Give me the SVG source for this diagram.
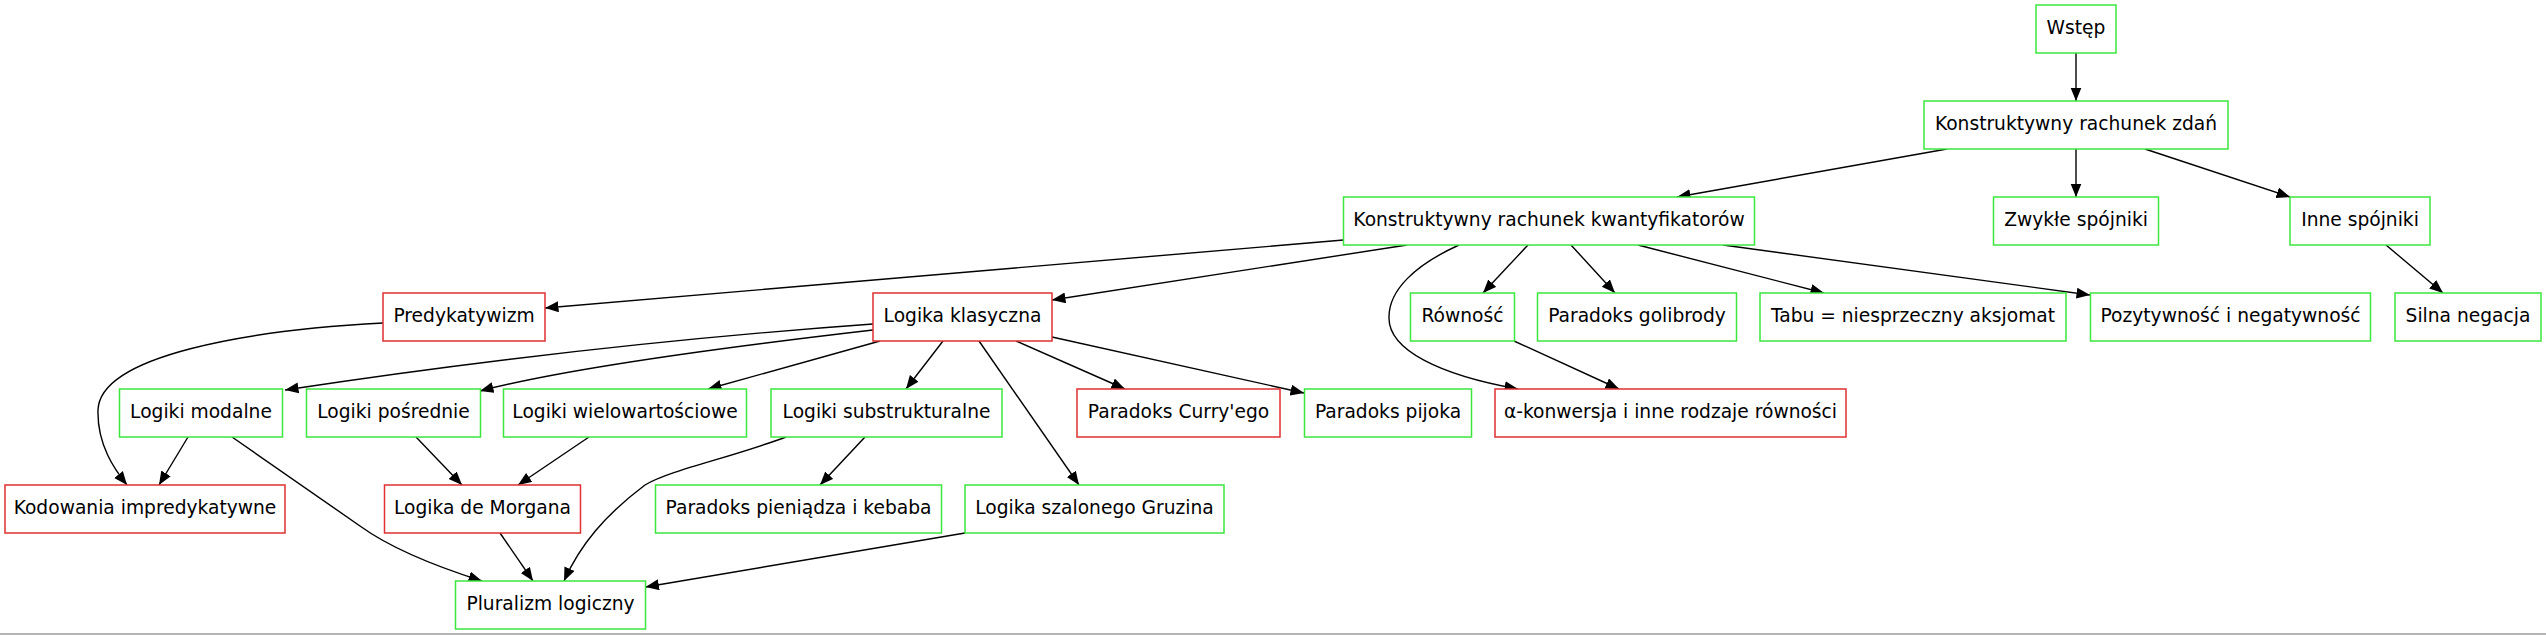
<svg xmlns="http://www.w3.org/2000/svg" width="2546" height="635" viewBox="0 0 2546 635">
<style>
  .n rect { fill: #ffffff; stroke-width: 1.5; }
  .g rect { stroke: #3ce63c; }
  .r rect { stroke: #e03030; }
  .n text { font-family: "DejaVu Sans", "Liberation Sans", sans-serif; font-size: 18.67px; text-anchor: middle; fill: #000000; }
  .e path { fill: none; stroke: #000000; stroke-width: 1.4; marker-end: url(#ah); }
</style>
<defs>
  <marker id="ah" markerWidth="16" markerHeight="12" refX="13.5" refY="5.5" orient="auto" markerUnits="userSpaceOnUse">
    <path d="M0,0 L13.5,5.5 L0,11 z" fill="#000000"/>
  </marker>
</defs>
<rect x="0" y="0" width="2546" height="635" fill="#ffffff"/>
<g id="connectors" class="e">
  <path d="M2076,53 L2076,101"/>
  <path d="M1947,149 L1677,197"/>
  <path d="M2076,149 L2076,197"/>
  <path d="M2145,149 L2290,197"/>
  <path d="M2386,245 L2443,293"/>
  <path d="M1343.5,240 L545,308"/>
  <path d="M1407,245 L1052,300"/>
  <path d="M1528,245 L1483,293"/>
  <path d="M1571,245 L1615,293"/>
  <path d="M1638,245 L1824,293"/>
  <path d="M1723,245 L2090,295"/>
  <path d="M1459,245 C1415,265 1389,290 1389,317 C1388,350 1440,375 1518,389"/>
  <path d="M1514,341 L1619,389"/>
  <path d="M383,323 C250,330 100,355 98,410 C97,445 115,470 127,485"/>
  <path d="M873,324 C650,340 450,365 285,390"/>
  <path d="M873,330 C700,350 560,370 480,391"/>
  <path d="M880,341 L708,389"/>
  <path d="M943,341 L906,389"/>
  <path d="M979,341 L1079,485"/>
  <path d="M1016,341 L1125,389"/>
  <path d="M1052,337 L1304,393"/>
  <path d="M188,437 L159,485"/>
  <path d="M232,437 L360,526 Q400,555 482,581"/>
  <path d="M416,437 L462,485"/>
  <path d="M589,437 L518,485"/>
  <path d="M865,437 L820,485"/>
  <path d="M786,437 C730,458 670,470 645,485 C605,515 580,545 564,581"/>
  <path d="M500,533 L533,581"/>
  <path d="M965,533 L645.5,587"/>
</g>
<g id="wstep" class="n g"><rect x="2036" y="5" width="80" height="48"/><text x="2076" y="34.3">Wstęp</text></g>
<g id="krz" class="n g"><rect x="1924" y="101" width="304" height="48"/><text x="2076" y="130.3">Konstruktywny rachunek zdań</text></g>
<g id="krk" class="n g"><rect x="1343.5" y="197" width="411" height="48"/><text x="1549" y="226.3">Konstruktywny rachunek kwantyfikatorów</text></g>
<g id="zwykle" class="n g"><rect x="1993.5" y="197" width="165" height="48"/><text x="2076" y="226.3">Zwykłe spójniki</text></g>
<g id="inne" class="n g"><rect x="2290" y="197" width="140" height="48"/><text x="2360" y="226.3">Inne spójniki</text></g>
<g id="predykatywizm" class="n r"><rect x="383" y="293" width="162" height="48"/><text x="464" y="322.3">Predykatywizm</text></g>
<g id="logika-klasyczna" class="n r"><rect x="873" y="293" width="179" height="48"/><text x="962.5" y="322.3">Logika klasyczna</text></g>
<g id="rownosc" class="n g"><rect x="1410.5" y="293" width="104" height="48"/><text x="1462.5" y="322.3">Równość</text></g>
<g id="golibroda" class="n g"><rect x="1537.5" y="293" width="199" height="48"/><text x="1637" y="322.3">Paradoks golibrody</text></g>
<g id="tabu" class="n g"><rect x="1760" y="293" width="306" height="48"/><text x="1913" y="322.3">Tabu = niesprzeczny aksjomat</text></g>
<g id="pozytywnosc" class="n g"><rect x="2090.5" y="293" width="280" height="48"/><text x="2230.5" y="322.3">Pozytywność i negatywność</text></g>
<g id="silna-negacja" class="n g"><rect x="2395" y="293" width="146" height="48"/><text x="2468" y="322.3">Silna negacja</text></g>
<g id="modalne" class="n g"><rect x="119.5" y="389" width="163" height="48"/><text x="201" y="418.3">Logiki modalne</text></g>
<g id="posrednie" class="n g"><rect x="306.5" y="389" width="174" height="48"/><text x="393.5" y="418.3">Logiki pośrednie</text></g>
<g id="wielowartosciowe" class="n g"><rect x="503.5" y="389" width="243" height="48"/><text x="625" y="418.3">Logiki wielowartościowe</text></g>
<g id="substrukturalne" class="n g"><rect x="771" y="389" width="231" height="48"/><text x="886.5" y="418.3">Logiki substrukturalne</text></g>
<g id="curry" class="n r"><rect x="1077" y="389" width="203" height="48"/><text x="1178.5" y="418.3">Paradoks Curry'ego</text></g>
<g id="pijok" class="n g"><rect x="1304.5" y="389" width="167" height="48"/><text x="1388" y="418.3">Paradoks pijoka</text></g>
<g id="alfa" class="n r"><rect x="1495" y="389" width="351" height="48"/><text x="1670.5" y="418.3">α-konwersja i inne rodzaje równości</text></g>
<g id="kodowania" class="n r"><rect x="5" y="485" width="280" height="48"/><text x="145" y="514.3">Kodowania impredykatywne</text></g>
<g id="demorgan" class="n r"><rect x="384.5" y="485" width="196" height="48"/><text x="482.5" y="514.3">Logika de Morgana</text></g>
<g id="pieniadz" class="n g"><rect x="655.5" y="485" width="286" height="48"/><text x="798.5" y="514.3">Paradoks pieniądza i kebaba</text></g>
<g id="gruzin" class="n g"><rect x="965" y="485" width="259" height="48"/><text x="1094.5" y="514.3">Logika szalonego Gruzina</text></g>
<g id="pluralizm" class="n g"><rect x="455.5" y="581" width="190" height="48"/><text x="550.5" y="610.3">Pluralizm logiczny</text></g>
<rect x="0" y="633" width="2546" height="2" fill="#b4b4b4"/>
</svg>
